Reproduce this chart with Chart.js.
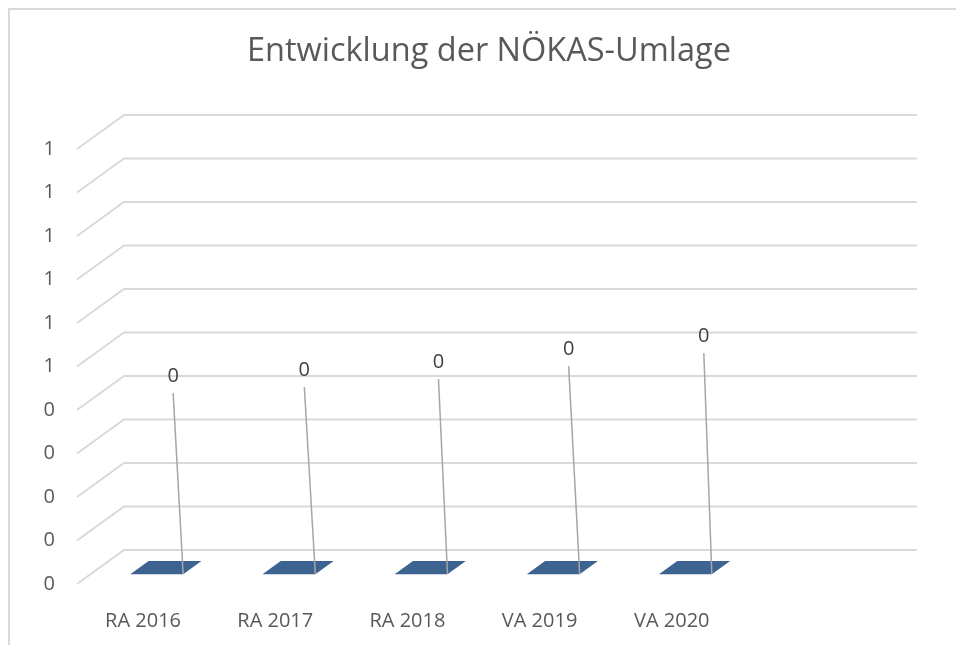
<!DOCTYPE html>
<html>
<head>
<meta charset="utf-8">
<script src="https://cdn.jsdelivr.net/npm/chart.js@4.4.0/dist/chart.umd.min.js"></script>
<style>
  html, body { margin: 0; padding: 0; background: #ffffff; }
  #wrap { width: 956px; height: 645px; position: relative; }
</style>
</head>
<body>
<div id="wrap"><canvas id="c" width="956" height="645"></canvas></div>
<script>
// ---- data ----
const categories = ['RA 2016', 'RA 2017', 'RA 2018', 'VA 2019', 'VA 2020', ''];
const values = [0, 0, 0, 0, 0, null];
const yMin = 0;
const yMax = 1;
const yStep = 0.1;
const chartTitle = 'Entwicklung der NÖKAS-Umlage';

// ---- style ----
const FONT = "'Open Sans', 'Noto Sans', sans-serif";
const DEPTH = { dx: 47, dy: -34 };          // full floor depth offset
const BAR_DEPTH = [0.29, 0.68];             // bar front/back depth fraction
const LABEL_OFFSETS = [                     // data label position relative to bar front-right corner
  [-10, -198], [-11, -204], [-9, -212], [-11, -225], [-8, -238]
];
const TITLE_POS = { x: 489, y: 52 };

const depthPlugin = {
  id: 'depth3d',
  beforeDraw(chart) {
    const ctx = chart.ctx;
    ctx.save();
    ctx.fillStyle = '#ffffff';
    ctx.fillRect(0, 0, chart.width, chart.height);
    // outer border (top + left visible)
    ctx.strokeStyle = '#d9d9d9';
    ctx.lineWidth = 2;
    ctx.beginPath();
    ctx.moveTo(9, chart.height + 5);
    ctx.lineTo(9, 9);
    ctx.lineTo(chart.width + 5, 9);
    ctx.stroke();
    // title
    ctx.fillStyle = '#595959';
    ctx.font = '32.5px ' + FONT;
    ctx.textAlign = 'center';
    ctx.textBaseline = 'middle';
    ctx.fillText(chartTitle, TITLE_POS.x, TITLE_POS.y);
    ctx.restore();
  },
  beforeDatasetsDraw(chart) {
    const ctx = chart.ctx;
    const ys = chart.scales.y;
    const area = chart.chartArea;
    ctx.save();
    ctx.strokeStyle = '#d9d9d9';
    ctx.lineWidth = 1.8;
    ys.ticks.forEach(t => {
      const py = ys.getPixelForValue(t.value);
      ctx.beginPath();
      ctx.moveTo(area.left, py);
      ctx.lineTo(area.left + DEPTH.dx, py + DEPTH.dy);
      ctx.lineTo(area.right + DEPTH.dx, py + DEPTH.dy);
      ctx.stroke();
    });
    ctx.restore();
  },
  afterDatasetsDraw(chart) {
    const ctx = chart.ctx;
    const meta = chart.getDatasetMeta(0);
    const ys = chart.scales.y;
    const [t1, t2] = BAR_DEPTH;
    ctx.save();
    meta.data.forEach((bar, i) => {
      const v = values[i];
      if (v === null || v === undefined) return;
      const p = bar.getProps(['x', 'y', 'base', 'width'], true);
      const xl = p.x - p.width / 2, xr = p.x + p.width / 2;
      const base = ys.getPixelForValue(0);
      const top = ys.getPixelForValue(v);
      const fx = DEPTH.dx * t1, fy = DEPTH.dy * t1;
      const bx = DEPTH.dx * t2, by = DEPTH.dy * t2;
      // front face (zero height here)
      ctx.fillStyle = '#3d6391';
      if (base - top > 0.5) {
        ctx.fillRect(xl + fx, top + fy, p.width, base - top);
      }
      // top face
      ctx.beginPath();
      ctx.moveTo(xl + fx, top + fy);
      ctx.lineTo(xr + fx, top + fy);
      ctx.lineTo(xr + bx, top + by);
      ctx.lineTo(xl + bx, top + by);
      ctx.closePath();
      ctx.fill();
      // leader line + label
      const off = LABEL_OFFSETS[i] || [0, -30];
      const ax = xr + fx, ay = top + fy;
      const lx = ax + off[0], ly = ay + off[1];
      ctx.strokeStyle = '#a6a6a6';
      ctx.lineWidth = 1.5;
      ctx.beginPath();
      ctx.moveTo(ax, ay);
      ctx.lineTo(lx, ly + 17);
      ctx.stroke();
      ctx.fillStyle = '#404040';
      ctx.font = '20px ' + FONT;
      ctx.textAlign = 'center';
      ctx.textBaseline = 'middle';
      ctx.fillText(String(Math.round(v)), lx, ly);
    });
    ctx.restore();
  }
};

new Chart(document.getElementById('c'), {
  type: 'bar',
  data: {
    labels: categories,
    datasets: [{
      data: values,
      backgroundColor: 'rgba(0,0,0,0)',
      borderWidth: 0,
      barPercentage: 0.4,
      categoryPercentage: 1.0
    }]
  },
  options: {
    responsive: false,
    animation: false,
    devicePixelRatio: 1,
    layout: { padding: { left: 0, right: 86, top: 149, bottom: 0 } },
    plugins: {
      legend: { display: false },
      tooltip: { enabled: false },
      title: { display: false }
    },
    scales: {
      x: {
        grid: { display: false },
        border: { display: false },
        ticks: {
          color: '#595959',
          font: { family: FONT, size: 20 },
          padding: 17,
          maxRotation: 0,
          autoSkip: false
        },
        afterFit(scale) { scale.height = 61; }
      },
      y: {
        min: yMin,
        max: yMax,
        grid: { display: false },
        border: { display: false },
        ticks: {
          stepSize: yStep,
          color: '#595959',
          font: { family: FONT, size: 20 },
          padding: 14,
          callback: (v) => String(Math.round(v + 1e-9))
        },
        afterFit(scale) { scale.width = 77; }
      }
    }
  },
  plugins: [depthPlugin]
});
</script>
</body>
</html>
